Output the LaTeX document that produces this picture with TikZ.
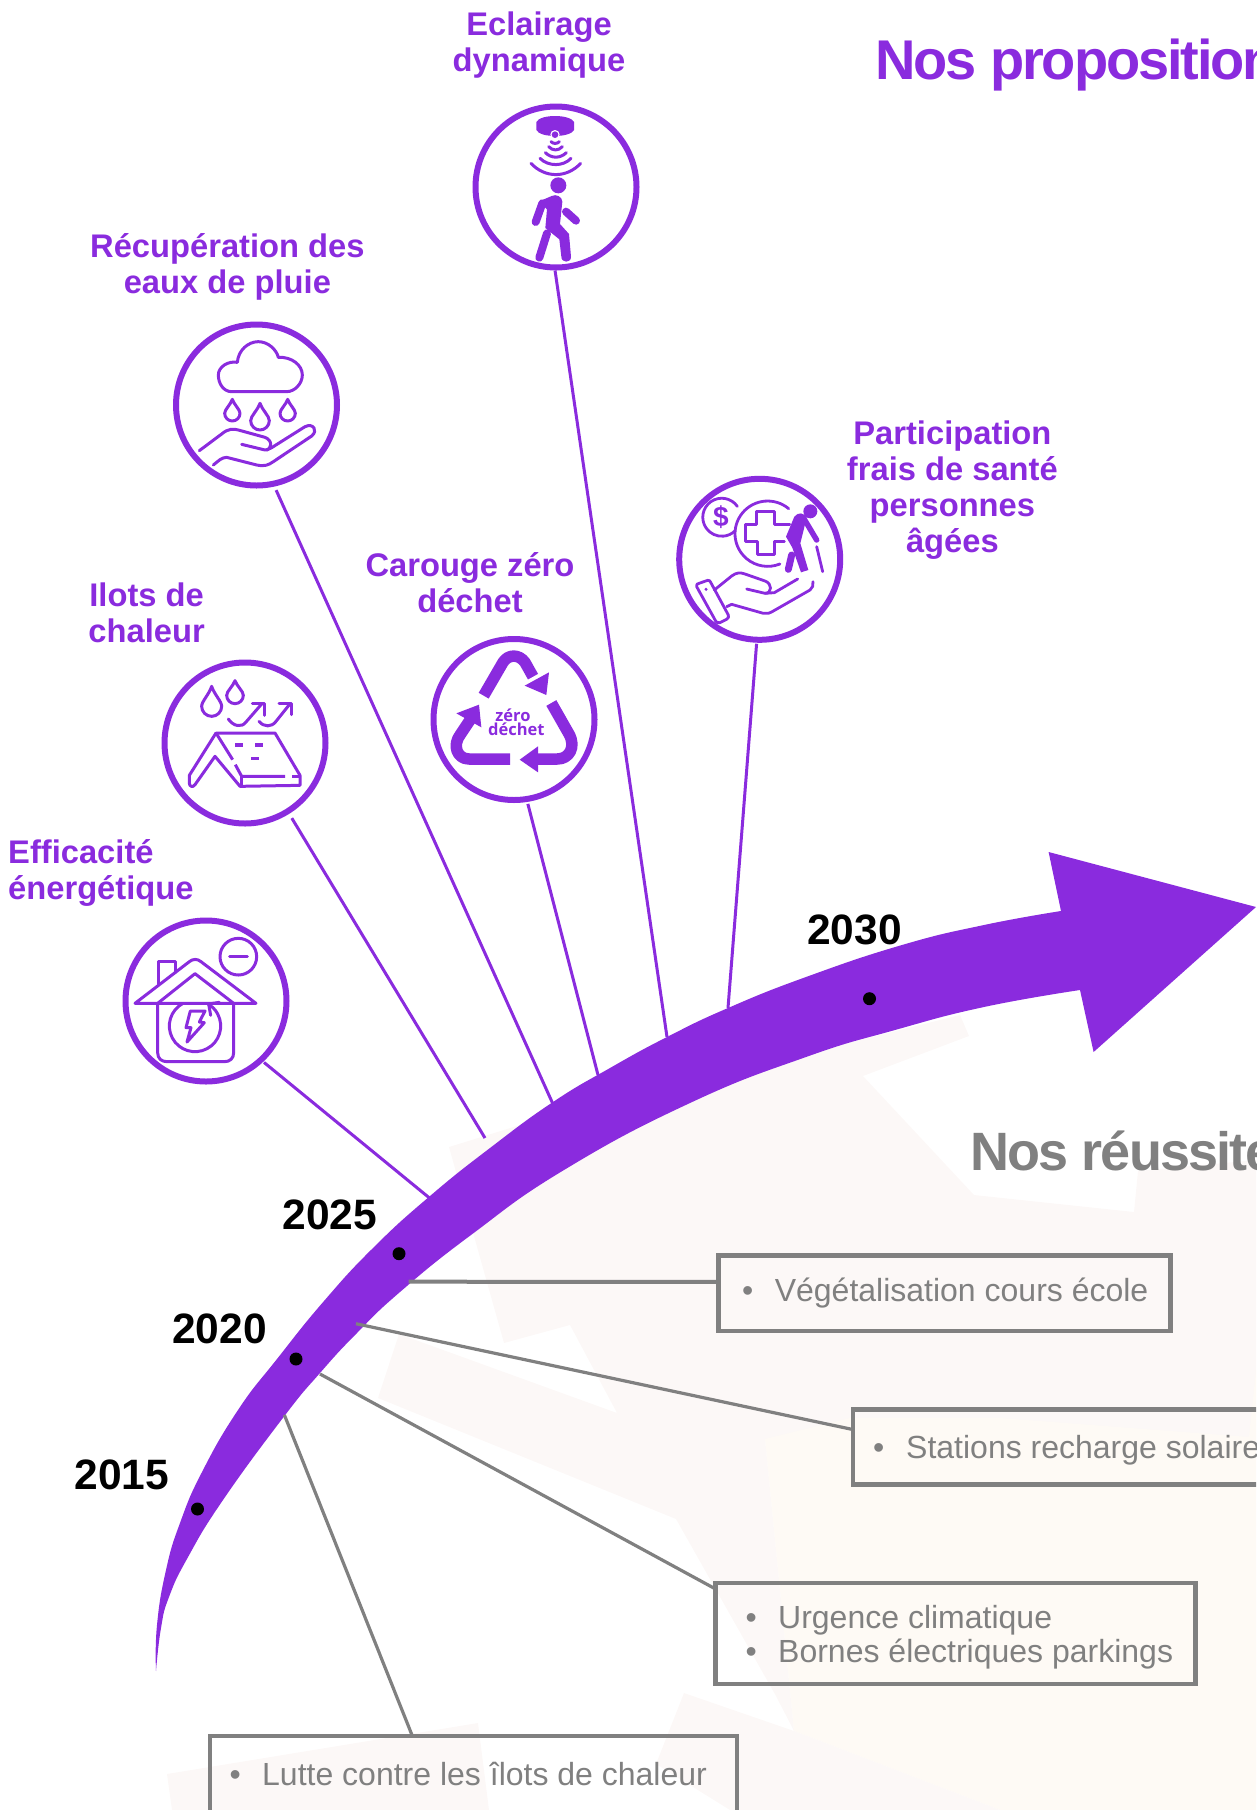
\documentclass[tikz,border=0pt]{standalone}
\usepackage{fontspec}
\usetikzlibrary{calc}
\setmainfont{Liberation Sans}
\newfontfamily\zerofont{Open Sans}
\definecolor{pur}{HTML}{8A2BDE}
\definecolor{grayc}{HTML}{808080}
\definecolor{palepink}{HTML}{FCF8F7}
\definecolor{palecream}{HTML}{FEFAF5}
\tikzset{
  ring/.style={circle,draw=pur,line width=6pt,minimum size=161pt,inner sep=0pt,outer sep=0pt},
  plink/.style={draw=pur,line width=3pt},
  glink/.style={draw=grayc,line width=3.2pt},
  proplabel/.style={text=pur,font=\bfseries\fontsize{32.7}{36}\selectfont,align=center,inner sep=0pt},
  yearlabel/.style={text=black,font=\bfseries\fontsize{42.5}{46}\selectfont,inner sep=0pt},
  gbox/.style={rectangle,draw=grayc,line width=4.5pt,inner sep=0pt,outer sep=0pt},
  itemtext/.style={text=grayc,font=\fontsize{32}{36}\selectfont,inner sep=0pt,anchor=west},
  yeardot/.style={circle,fill=black,minimum size=13pt,inner sep=0pt},
  icon/.style={draw=pur,line width=3pt,line cap=round,line join=round},
  iconthin/.style={draw=pur,line width=2.8pt,line cap=round,line join=round},
  iconthick/.style={draw=pur,line width=8pt,line cap=round,line join=round},
  iconband/.style={draw=pur,line width=11.5pt,line join=round},
  local/.style={x=0.33333pt,y=-0.33333pt}
}
\newcommand{\dropshape}[4]{(#1,#2) .. controls ({#1-0.25*#4},{#2+0.4*(#3-#2)}) and ({#1-#4},{#3-0.5*#4}) .. ({#1-#4},#3) .. controls ({#1-#4},{#3+0.55*#4}) and ({#1-0.55*#4},{#3+#4}) .. (#1,{#3+#4}) .. controls ({#1+0.55*#4},{#3+#4}) and ({#1+#4},{#3+0.55*#4}) .. ({#1+#4},#3) .. controls ({#1+#4},{#3-0.5*#4}) and ({#1+0.25*#4},{#2+0.4*(#3-#2)}) .. cycle}
\newcommand{\itembul}[2]{\makebox[#1pt][l]{•}#2}
\begin{document}
\begin{tikzpicture}[x=1pt,y=-1pt]
\useasboundingbox (0,0) rectangle (1256,1810);
\begin{scope}
\clip (0,0) rectangle (1256,1810);
% pale background map
\fill[palepink] (449,1147) -- (520,1125) -- (960,1015) -- (969,1036) -- (863,1076) -- (974,1195) -- (1134,1212) -- (1138,1171) -- (1256,1160) -- (1256,1440) -- (765,1439) -- (794,1731) -- (776,1696) -- (676,1519) -- (378,1398) -- (399,1334) -- (617,1413) -- (570,1325) -- (504,1343) -- cycle;
\fill[palecream] (765,1439) -- (850,1418) -- (1000,1418) -- (1249,1437) -- (1256,1370) -- (1256,1810) -- (1000,1810) -- (794,1731) -- cycle;
\fill[palepink] (684,1693) -- (794,1731) -- (1000,1810) -- (730,1810) -- (656,1764) -- cycle;
\fill[palepink] (167,1774) -- (478,1723) -- (489,1810) -- (172,1810) -- cycle;

% circles
\node[ring] (eclair) at (556,187) {};
\node[ring] (recup) at (256.5,405) {};
\node[ring] (ilots) at (245,743) {};
\node[ring] (zero) at (514,719.5) {};
\node[ring] (effic) at (206,1001) {};
\node[ring] (part) at (759.7,559.3) {};

% free ends on the arrow
\coordinate (pe1) at (667,1037);
\coordinate (pe2) at (552.5,1103);
\coordinate (pe3) at (485,1138);
\coordinate (pe4) at (598,1075);
\coordinate (pe5) at (429.5,1198);
\coordinate (pe6) at (728,1008);
\draw[plink,shorten <=3pt] (eclair.-91) -- (pe1);
\draw[plink,shorten <=7pt] (recup.-78.6) -- (pe2);
\draw[plink,shorten <=8pt] (ilots.-58.5) -- (pe3);
\draw[plink,shorten <=5pt] (zero.-81) -- (pe4);
\draw[plink,shorten <=4pt] (effic.-47.4) -- (pe5);
\draw[plink,shorten <=4pt] (part.-92.5) -- (pe6);

% main arrow
\fill[pur] plot[smooth,tension=0.8] coordinates {(156,1671) (157,1625) (166,1570) (180,1523) (202,1472) (238,1410) (277,1359) (324,1301) (374,1247) (430,1196) (490,1148) (553,1102) (610,1068) (667,1037) (728,1008) (806,977) (902,945) (984,925) (1061,911)}
 -- (1048.6,852) -- (1256,907) -- (1093.6,1052) -- (1080,990)
 -- plot[smooth,tension=0.8] coordinates {(1080,990) (984,1007) (895,1030) (806,1057) (690,1103) (564,1170) (471,1235) (400,1292) (356,1334) (320,1373) (284.4,1416) (223,1500) (187.5,1558) (169,1597) (161,1628) (156,1671)} -- cycle;

% year dots and labels
\node[yeardot] (d30) at (869.5,998.7) {};
\node[yeardot] (d25) at (399,1253.7) {};
\node[yeardot] (d20) at (296,1359) {};
\node[yeardot] (d15) at (197.5,1509) {};
\node[yearlabel] (y30) at (854.5,930) {2030};
\node[yearlabel] (y25) at (330,1214.5) {2025};
\node[yearlabel] (y20) at (219.5,1329) {2020};
\node[yearlabel] (y15) at (122,1475) {2015};

% titles
\node[anchor=base west,inner sep=0pt,text=pur,font=\bfseries\fontsize{56}{60}\selectfont\addfontfeature{LetterSpace=-3.8}] (t1) at (875,79) {Nos propositions};
\node[anchor=base west,inner sep=0pt,text=grayc,font=\bfseries\fontsize{54}{58}\selectfont\addfontfeature{LetterSpace=-3.4}] (t2) at (970,1170) {Nos réussites};

% proposition labels
\node[proplabel] (l1) at (539,45.2) {Eclairage\\dynamique};
\node[proplabel] (l2) at (227.4,267.3) {Récupération des\\eaux de pluie};
\node[proplabel] (l3) at (146.6,612.4) {Ilots de\\chaleur};
\node[proplabel] (l4) at (470,582.4) {Carouge zéro\\déchet};
\node[proplabel,align=left,anchor=west] (l5) at (8,872.5) {Efficacité\\énergétique};
\node[proplabel] (l6) at (952.4,490.5) {Participation\\frais de santé\\personnes\\âgées};

% boxes
\node[gbox,minimum width=452pt,minimum height=75.5pt] (b1) at (944.4,1293.2) {};
\node[gbox,minimum width=447pt,minimum height=75pt] (b2) at (1076.5,1446.8) {};
\node[gbox,minimum width=480pt,minimum height=101pt] (b3) at (955.7,1633.5) {};
\node[gbox,minimum width=527pt,minimum height=125pt] (b4) at (473.5,1798.5) {};
\node[itemtext] (i1) at (742,1293.5) {\itembul{32.6}{Végétalisation cours école}};
\node[itemtext] (i2) at (873,1450) {\itembul{33}{Stations recharge solaire}};
\node[itemtext] (i3) at (745.5,1620.5) {\itembul{32.5}{Urgence climatique}};
\node[itemtext] (i4) at (745.5,1654.3) {\itembul{32.5}{Bornes électriques parkings}};
\node[itemtext] (i5) at (229.5,1774) {\itembul{32.5}{Lutte contre les îlots de chaleur}};

% grey connectors
\coordinate (gs1) at (408.6,1281.7);
\coordinate (gs2) at (356,1323.7);
\coordinate (gs3) at (320,1374);
\coordinate (gs4) at (284.4,1415);
\draw[glink,line width=4pt] (gs1) -- ($(b1.north west)!0.35!(b1.south west)$);
\draw[glink] (gs2) -- ($(b2.north west)!0.27!(b2.south west)$);
\draw[glink] (gs3) -- ($(b3.north west)!0.06!(b3.south west)$);
\draw[glink] (gs4) -- ($(b4.north west)!0.384!(b4.north east)$);

% icon: Eclairage
\begin{scope}[shift={(470,100)},local]
\fill[pur] (199,66) .. controls (210,42) and (300,42) .. (312,66) -- (312,90) .. controls (300,114) and (210,114) .. (199,90) -- cycle;
\fill[white] (255,104) circle (14);
\fill[pur] (255,104) circle (10);
\draw[icon] (243,125) .. controls (250,132) and (261,132) .. (268,125);
\draw[icon] (236,140) .. controls (248,153) and (265,153) .. (277,140);
\draw[icon] (226,158) .. controls (245,176) and (270,176) .. (289,158);
\draw[icon] (210,175) .. controls (235,200) and (280,200) .. (303,175);
\draw[icon] (183,190) .. controls (225,235) and (290,235) .. (332,190);
\fill[pur] (265,256) circle (24);
\fill[pur] (208,304) -- (245,288) .. controls (258,281) and (277,290) .. (277,305) -- (270,372) -- (297,402) -- (303,470) .. controls (304,490) and (274,490) .. (274,470) -- (268,418) -- (226,384) -- (231,328) -- cycle;
\draw[iconthick] (217,310) -- (197,366);
\draw[iconthick] (288,335) -- (318,362);
\draw[iconthick] (231,400) -- (208,473);
\end{scope}

% icon: Recuperation
\begin{scope}[shift={(150,300)},local]
\draw[icon] (245,275) .. controls (220,275) and (205,250) .. (205,225) .. controls (205,200) and (235,182) .. (262,187) .. controls (265,150) and (295,125) .. (325,125) .. controls (355,125) and (380,150) .. (385,172) .. controls (425,170) and (457,195) .. (457,225) .. controls (457,250) and (435,275) .. (410,275) -- cycle;
\draw[icon] \dropshape{247}{298}{340}{23};
\draw[icon] \dropshape{330}{310}{362}{28};
\draw[icon] \dropshape{413}{298}{340}{23};
\draw[icon] (148,452) -- (215,402) .. controls (235,385) and (250,386) .. (265,390) -- (345,412) .. controls (368,420) and (368,450) .. (345,450) -- (275,433);
\draw[icon] (350,450) -- (365,443) -- (465,380) .. controls (490,368) and (505,392) .. (485,408) -- (370,485) .. controls (355,495) and (345,500) .. (320,495) -- (230,472) .. controls (215,472) and (205,483) .. (190,495);
\end{scope}

% icon: Ilots de chaleur
\begin{scope}[shift={(160,658)},local]
\draw[icon] \dropshape{155}{85}{145}{30};
\draw[icon] \dropshape{225}{68}{112}{25};
\draw[icon] (205,183) .. controls (220,205) and (245,210) .. (258,192) -- (305,138);
\draw[icon] (277,135) -- (312,135) -- (312,172);
\draw[icon] (297,190) .. controls (312,208) and (335,208) .. (348,190) -- (388,140);
\draw[icon] (357,135) -- (393,135) -- (393,170);
\draw[icon] (168,225) -- (345,225) -- (420,352) -- (420,382) -- (240,385) -- (165,295) -- (105,380) .. controls (98,390) and (88,385) .. (88,375) -- (88,352) -- (168,225);
\draw[icon,line cap=butt] (168,225) -- (218,305);
\draw[icon,line cap=butt] (226,320) -- (245,355) -- (375,355);
\draw[icon,line cap=butt] (397,355) -- (420,355);
\draw[icon,line cap=butt] (245,355) -- (245,385);
\draw[icon,line width=3.4pt,line cap=butt] (225,261) -- (248,261);
\draw[icon,line width=3.4pt,line cap=butt] (285,261) -- (308,261);
\draw[icon,line width=3.4pt,line cap=butt] (273,302) -- (297,302);
\end{scope}

% icon: Efficacite
\begin{scope}[shift={(121,916)},local]
\draw[icon] (352,122) circle (55);
\draw[icon] (326,122) -- (379,122);
\draw[icon] (112,205) -- (112,135) -- (162,135) -- (162,170);
\draw[icon] (42,262) -- (205,137) .. controls (215,128) and (230,128) .. (240,137) -- (405,262) -- cycle;
\draw[icon] (110,262) -- (222,173) -- (338,262);
\draw[icon] (110,262) -- (110,410) .. controls (110,428) and (122,437) .. (138,437) -- (310,437) .. controls (326,437) and (338,428) .. (338,410) -- (338,262);
\draw[icon] (185.9,262) arc (-118:-420:77);
\draw[icon] (295,259) -- (263,264) -- (269,298);
\draw[icon] (208,285) -- (252,285) -- (235,318) -- (250,320) -- (198,378) -- (210,335) -- (195,335) -- cycle;
\end{scope}

% icon: zero dechet
\begin{scope}[shift={(429,634)},local]
\draw[iconband] (164,185) -- (222,85) .. controls (238,60) and (270,60) .. (288,85) -- (312,128);
\fill[pur] (360,115) -- (352,183) -- (287,155) -- cycle;
\draw[iconband] (367,207) -- (420,300) .. controls (442,340) and (420,375) .. (385,375) -- (325,375);
\fill[pur] (272,377) -- (327,337) -- (327,415) -- cycle;
\draw[iconband] (243,375) -- (120,375) .. controls (85,375) and (68,335) .. (95,300) -- (125,255);
\fill[pur] (82,238) -- (150,212) -- (157,280) -- cycle;
\node[text=pur,font=\zerofont\bfseries\fontsize{16.5}{18}\selectfont,inner sep=0pt] (zt1) at (252,245) {zéro};
\node[text=pur,font=\zerofont\bfseries\fontsize{16.5}{18}\selectfont,inner sep=0pt] (zt2) at (262,287) {déchet};
\end{scope}

% icon: Participation
\begin{scope}[shift={(675,475)},local]
\draw[iconthin] (187,94) arc (-35:-315:57);
\node[text=pur,font=\bfseries\fontsize{28}{30}\selectfont,inner sep=0pt] (dollar) at (138,127) {\$};
\draw[iconthin] (341,101) arc (-50:-292:98);
\draw[iconthin] (345,148) -- (298,148) -- (298,110) -- (245,110) -- (245,148) -- (212,148) -- (212,200) -- (248,200) -- (248,238) -- (298,238) -- (298,200) -- (328,200);
\fill[white] (352,120) -- (400,130) -- (440,200) -- (410,300) -- (325,300) -- cycle;
\fill[pur] (406,109) circle (21);
\fill[pur] (358,125) .. controls (370,110) and (387,113) .. (395,128) -- (376,205) -- (400,285) -- (378,292) -- (352,218) -- (333,185) -- cycle;
\draw[iconthick,line width=5.5pt] (385,128) -- (425,195);
\draw[iconthick,line width=7pt] (350,240) -- (340,283);
\draw[iconthin] (425,215) -- (443,290);
\draw[iconthin] (65,335) .. controls (63,328) and (67,326) .. (72,325) -- (98,316) .. controls (103,315) and (105,318) .. (107,322) -- (160,420) .. controls (162,426) and (160,430) .. (155,433) -- (135,443) .. controls (128,445) and (124,442) .. (122,438) -- cycle;
\fill[pur] (93,343) circle (5);
\draw[iconthin] (118,345) -- (170,303) .. controls (185,292) and (195,292) .. (210,297) -- (270,318) .. controls (292,325) and (292,355) .. (270,355) -- (215,342);
\draw[iconthin] (270,355) -- (298,353) -- (368,312);
\draw[iconthin] (155,395) -- (170,388) -- (265,415) .. controls (275,418) and (285,414) .. (295,408) -- (405,345) .. controls (413,340) and (415,330) .. (414,320);
\end{scope}
\end{scope}
\end{tikzpicture}
\end{document}
